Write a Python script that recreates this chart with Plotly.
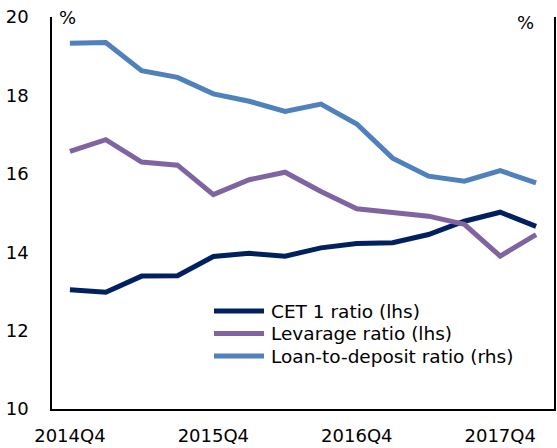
import plotly.graph_objects as go

quarters = ["2014Q4", "2015Q1", "2015Q2", "2015Q3", "2015Q4", "2016Q1", "2016Q2",
            "2016Q3", "2016Q4", "2017Q1", "2017Q2", "2017Q3", "2017Q4", "2018Q1"]
tick_labels = ["2014Q4", "2015Q4", "2016Q4", "2017Q4"]
cet1 = [13.04, 12.98, 13.39, 13.40, 13.89, 13.97, 13.90, 14.11, 14.22, 14.24, 14.45, 14.79, 15.02, 14.66]
leverage = [16.57, 16.87, 16.30, 16.22, 15.47, 15.85, 16.04, 15.55, 15.11, 15.02, 14.92, 14.71, 13.90, 14.45]
loan_dep = [19.33, 19.35, 18.63, 18.46, 18.04, 17.85, 17.59, 17.78, 17.27, 16.40, 15.94, 15.81, 16.08, 15.77]
series_names = ["CET 1 ratio (lhs)", "Levarage ratio (lhs)", "Loan-to-deposit ratio (rhs)"]
colors = ["#002060", "#8064A2", "#4F81BD"]

font = "DejaVu Sans, Verdana, sans-serif"
W, H = 557, 448
L, R, T, B = 52, 3, 17, 39
pw, ph = W - L - R, H - T - B

fig = go.Figure()
fig.add_trace(go.Scatter(x=quarters, y=cet1, mode="lines", name=series_names[0],
                         line=dict(color=colors[0], width=5)))
fig.add_trace(go.Scatter(x=quarters, y=leverage, mode="lines", name=series_names[1],
                         line=dict(color=colors[1], width=5)))
fig.add_trace(go.Scatter(x=quarters, y=loan_dep, mode="lines", name=series_names[2],
                         line=dict(color=colors[2], width=5), yaxis="y2"))

# manual legend (to match compact row spacing)
def px_x(x):
    return (x - L) / pw

def px_y(y):
    return (H - B - y) / ph

shapes, annotations = [], []
for i, (name, c) in enumerate(zip(series_names, colors)):
    yy = 311 + i * 22.5
    shapes.append(dict(type="line", xref="paper", yref="paper",
                       x0=px_x(214), x1=px_x(264), y0=px_y(yy), y1=px_y(yy),
                       line=dict(color=c, width=5)))
    annotations.append(dict(text=name, x=px_x(269), y=px_y(yy), xref="paper", yref="paper",
                            xanchor="left", yanchor="middle", showarrow=False,
                            font=dict(size=18.5)))

annotations += [
    dict(text="%", x=0.01, y=1.0, xref="paper", yref="paper", xanchor="left",
         yanchor="middle", showarrow=False, font=dict(size=18)),
    dict(text="%", x=px_x(525), y=0.985, xref="paper", yref="paper", xanchor="center",
         yanchor="middle", showarrow=False, font=dict(size=18)),
]

fig.update_layout(
    width=W, height=H,
    margin=dict(l=L, r=R, t=T, b=B),
    paper_bgcolor="white", plot_bgcolor="white",
    font=dict(family=font, size=18, color="black"),
    showlegend=False,
    xaxis=dict(type="category", range=[-0.5, 13.5], tickvals=tick_labels, ticktext=tick_labels,
               showline=True, linecolor="black", linewidth=1.5, showgrid=False, ticks="",
               ticklabelstandoff=10, zeroline=False),
    yaxis=dict(range=[10, 20], tickvals=[10, 12, 14, 16, 18, 20], showline=True,
               linecolor="black", linewidth=1.5, showgrid=False, ticks="",
               ticklabelstandoff=18, zeroline=False),
    yaxis2=dict(range=[10, 20], overlaying="y", side="right", showline=True,
                linecolor="black", linewidth=1.5, showgrid=False, ticks="",
                showticklabels=False, zeroline=False),
    shapes=shapes,
    annotations=annotations,
)
fig.write_html("out.html", config={"displayModeBar": False},
               post_script="document.body.style.margin='0';")
